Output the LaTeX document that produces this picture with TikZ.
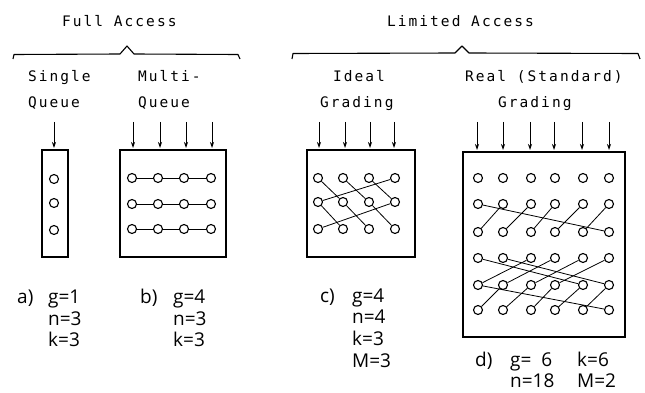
\documentclass[tikz,border=0pt]{standalone}
\usepackage{fontspec}
\newfontfamily\typew[LetterSpace=14]{DejaVu Sans Mono}
\newfontfamily\labf{Open Sans}
\usetikzlibrary{arrows.meta}
\begin{document}
\begin{tikzpicture}[x=1pt,y=-1pt,
  circ/.style={circle,draw,line width=1.1pt,minimum size=9pt,inner sep=0pt},
  boxst/.style={draw,line width=1.8pt},
  conn/.style={line width=0.8pt},
  brace/.style={line width=1.1pt,line join=round},
  inarrow/.style={-{Stealth[length=6pt,width=4pt]},line width=0.8pt},
  head/.style={font=\typew\fontsize{14.5}{16}\selectfont,anchor=base west,inner sep=0pt},
  lab/.style={font=\labf\fontsize{19}{22}\selectfont,anchor=base west,inner sep=0pt},
]
\useasboundingbox (0,0) rectangle (645,393);

% headings
\node[head] (hfull) at (62,27) {Full Access};
\node[head] (hlim) at (387,27) {Limited Access};
\draw[brace] (13,59) -- (14,54.5) -- (120,54) -- (127,46) -- (134,54) -- (238,54.5) -- (240,59);
\draw[brace] (292,59) -- (293,53.5) -- (455,53) -- (462,46) -- (469,53) -- (638,53.5) -- (640,59);

\node[head] (t1a) at (28,82) {Single};
\node[head] (t1b) at (28,108) {Queue};
\node[head] (t2a) at (138,82) {Multi-};
\node[head] (t2b) at (138,108) {Queue};
\node[head] (t3a) at (333,82) {Ideal};
\node[head] (t3b) at (320,108) {Grading};
\node[head] (t4a) at (465,82) {Real (Standard)};
\node[head] (t4b) at (498,108) {Grading};

% boxes
\draw[boxst] (42,150) rectangle (68,257);
\draw[boxst] (120,150) rectangle (226,257);
\draw[boxst] (307,150) rectangle (415,257);
\draw[boxst] (463,152) rectangle (625,337);

% a) single queue
\coordinate (sa0) at (54,122); \coordinate (sa1) at (54,148);
\draw[inarrow] (sa0) -- (sa1);
\foreach \r/\y in {1/179,2/203,3/230} \node[circ] (s-\r) at (54,\y) {};

% b) multi queue
\foreach \c/\x in {1/133,2/160,3/186,4/212} {
  \coordinate (ma\c) at (\x,122); \coordinate (mb\c) at (\x,148);
  \draw[inarrow] (ma\c) -- (mb\c);
}
\foreach \r/\y in {1/178,2/204,3/229}
  \foreach \c/\x in {1/132,2/158,3/184,4/211}
    \node[circ] (m-\r-\c) at (\x,\y) {};
\foreach \r in {1,2,3}
  \draw[conn] (m-\r-1) -- (m-\r-2) -- (m-\r-3) -- (m-\r-4);

% c) ideal grading
\foreach \c/\x in {1/319,2/345,3/370,4/394} {
  \coordinate (ia\c) at (\x,122); \coordinate (ib\c) at (\x,148);
  \draw[inarrow] (ia\c) -- (ib\c);
}
\foreach \r/\y in {1/178,2/202,3/229}
  \foreach \c/\x in {1/318,2/343,3/369,4/395}
    \node[circ] (i-\r-\c) at (\x,\y) {};
\foreach \j [evaluate=\j as \k using int(\j+1)] in {1,2,3} {
  \draw[conn] (i-1-\j) -- (i-2-\k);
  \draw[conn] (i-2-\j) -- (i-3-\k);
}
\draw[conn] (i-2-1) -- (i-1-4);
\draw[conn] (i-3-1) -- (i-2-4);

% d) real grading
\foreach \c/\x in {1/477,2/503,3/530,4/554,5/582,6/609} {
  \coordinate (ra\c) at (\x,122); \coordinate (rb\c) at (\x,150);
  \draw[inarrow] (ra\c) -- (rb\c);
}
\foreach \r/\y in {1/178,2/204,3/232,4/258,5/285,6/310}
  \foreach \c/\x in {1/478,2/503,3/531,4/555,5/583,6/609}
    \node[circ] (r-\r-\c) at (\x,\y) {};
\foreach \j [evaluate=\j as \k using int(\j-1)] in {2,...,6} {
  \draw[conn] (r-2-\j) -- (r-3-\k);
  \draw[conn] (r-5-\j) -- (r-6-\k);
}
\draw[conn] (r-2-1) -- (r-3-6);
\draw[conn] (r-5-1) -- (r-6-6);
\foreach \j [evaluate=\j as \k using int(\j+2)] in {1,...,4}
  \draw[conn] (r-5-\j) -- (r-4-\k);
\draw[conn] (r-5-5) -- (r-4-1);
\draw[conn] (r-5-6) -- (r-4-2);

% labels
\node[lab] (la) at (17,303) {a)};
\node[lab] (la1) at (48,303) {g=1};
\node[lab] (la2) at (48,325) {n=3};
\node[lab] (la3) at (48,346) {k=3};
\node[lab] (lb) at (140,303) {b)};
\node[lab] (lb1) at (173,303) {g=4};
\node[lab] (lb2) at (173,325) {n=3};
\node[lab] (lb3) at (173,346) {k=3};
\node[lab] (lc) at (320,302) {c)};
\node[lab] (lc1) at (352,302) {g=4};
\node[lab] (lc2) at (352,323) {n=4};
\node[lab] (lc3) at (352,345) {k=3};
\node[lab] (lc4) at (352,367) {M=3};
\node[lab] (ld) at (475,366) {d)};
\node[lab] (ld1) at (510,366) {g=\ \ 6};
\node[lab] (ld2) at (577,366) {k=6};
\node[lab] (ld3) at (510,387) {n=18};
\node[lab] (ld4) at (577,387) {M=2};
\end{tikzpicture}
\end{document}
